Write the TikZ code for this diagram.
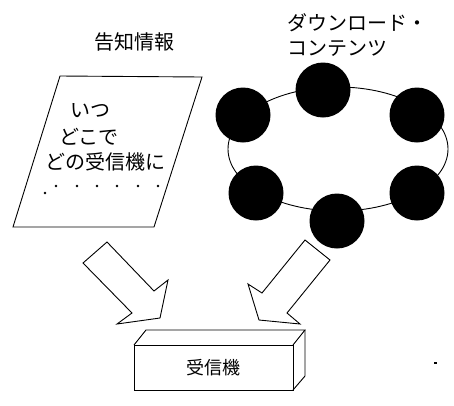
\documentclass[tikz,border=0pt]{standalone}
\usepackage{fontspec}
\setmainfont{Noto Sans CJK JP}
\usetikzlibrary{shapes.geometric}
\tikzset{
  lbl/.style={font=\fontsize{20}{24}\selectfont, inner sep=0pt},
  ln/.style={draw=black, line width=0.9pt, line join=miter},
  disc/.style={circle, fill=black, minimum size=55pt, inner sep=0pt},
  blockarrow/.style={draw=black, fill=white, line width=0.9pt, line join=miter}
}
\begin{document}
\begin{tikzpicture}[x=1pt,y=-1pt]
\useasboundingbox (0,0) rectangle (454,405);
% titles
\node[lbl] (t1) at (134,42) {告知情報};
\node[lbl, anchor=west] (t2) at (287,23) {ダウンロード・};
\node[lbl, anchor=west] (t3) at (287,48) {コンテンツ};
% notice sheet
\draw[ln] (60,76) -- (202,77) -- (154,227) -- (13,227) -- cycle;
\node[lbl, anchor=west] (s1) at (70,111) {いつ};
\node[lbl, anchor=west] (s2) at (59,137) {どこで};
\node[lbl, anchor=west] (s3) at (45,162) {どの受信機に};
\fill (45,193) circle (1.3);
\foreach \x in {56,77,97,117,138,158} { \fill (\x,186) circle (1.3); }
% ring of contents
\node[ellipse, draw=black, line width=0.9pt, minimum width=220pt, minimum height=124pt, inner sep=0pt] (ring) at (338,149) {};
\node[disc] (c1) at (323,90) {};
\node[disc] (c2) at (243,115) {};
\node[disc] (c3) at (417,115) {};
\node[disc] (c4) at (256,193) {};
\node[disc] (c5) at (417,193) {};
\node[disc] (c6) at (337,221) {};
% block arrows
\draw[blockarrow] (83,263) -- (107,242) -- (154,291) -- (168,280) -- (160,318) -- (117,324) -- (132,313) -- cycle;
\draw[blockarrow] (305,240) -- (330,260) -- (287,313) -- (300,324) -- (259,320) -- (248,284) -- (262,293) -- cycle;
% receiver box
\draw[ln] (134,345) -- (146,330) -- (305,330) -- (293,345);
\draw[ln] (305,330) -- (305,376) -- (293,390);
\node[draw=black, line width=0.9pt, minimum width=159pt, minimum height=45pt, inner sep=0pt, anchor=north west] (rx) at (134,345) {};
\node[font=\fontsize{18}{22}\selectfont, inner sep=0pt] (rxl) at (rx.center) {受信機};
\fill (434,362) rectangle (437,364);
\end{tikzpicture}
\end{document}
